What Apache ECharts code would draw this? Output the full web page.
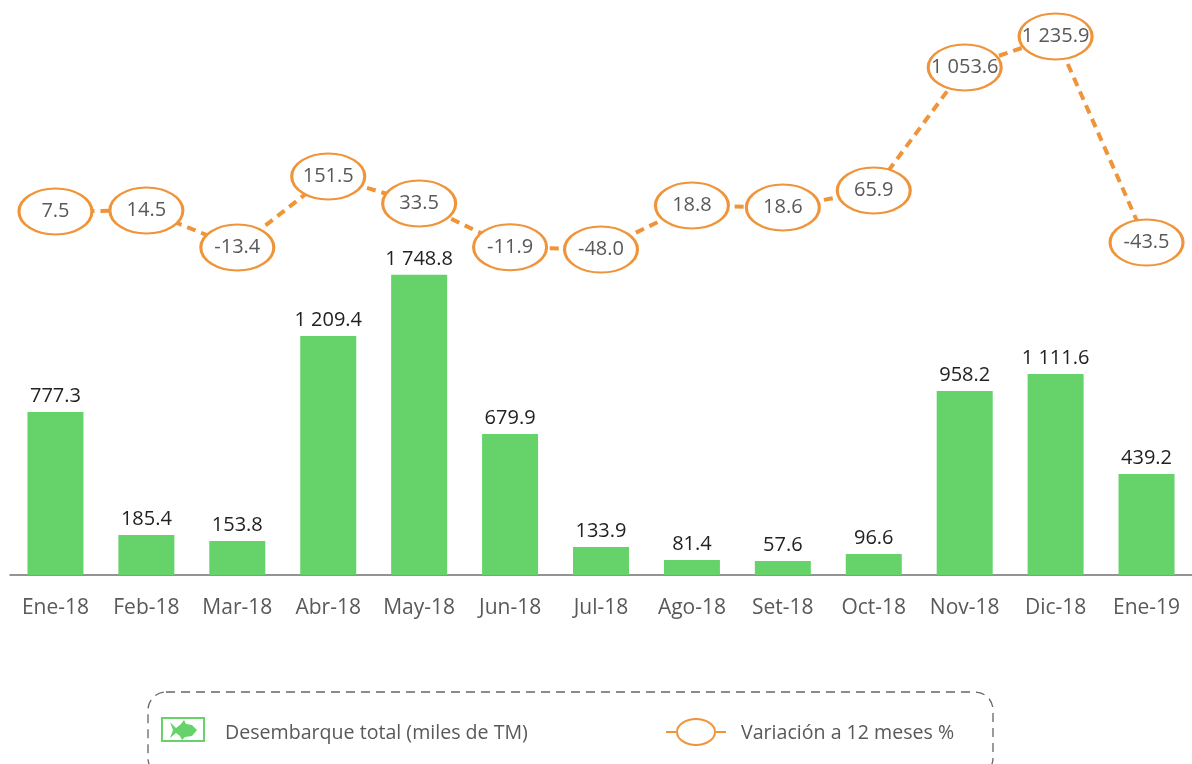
<!DOCTYPE html>
<html>
<head>
<meta charset="utf-8">
<style>
  html, body { margin: 0; padding: 0; background: #fff; }
  #main { width: 1192px; height: 764px; }
</style>
<script src="https://cdn.jsdelivr.net/npm/echarts@6/dist/echarts.min.js"></script>
</head>
<body>
<div id="main"></div>
<script>
const meses = ['Ene-18', 'Feb-18', 'Mar-18', 'Abr-18', 'May-18', 'Jun-18', 'Jul-18', 'Ago-18', 'Set-18', 'Oct-18', 'Nov-18', 'Dic-18', 'Ene-19']

// printed values
const desembarque = [777.3, 185.4, 153.8, 1209.4, 1748.8, 679.9, 133.9, 81.4, 57.6, 96.6, 958.2, 1111.6, 439.2]
const variacion = [7.5, 14.5, -13.4, 151.5, 33.5, -11.9, -48.0, 18.8, 18.6, 65.9, 1053.6, 1235.9, -43.5]

// the original graphic is not drawn to scale, so the marks use the levels read off the picture
const desembarqueDibujado = [950, 233, 198, 1393, 1749, 822, 163, 87, 82, 122, 1072, 1171, 589]
const variacionDibujada = [207, 213, -5, 413, 254, -3, -17, 242, 230, 330, 1053.6, 1235.9, 24]

const verde = '#66D36A'
const naranja = '#F0943A'
const gris = '#595959'
const fuente = '"Open Sans", sans-serif'

// 1 748.8 style
function formato (v) {
  const partes = v.toFixed(1).split('.')
  return partes[0].replace(/\B(?=(\d{3})+$)/g, ' ') + '.' + partes[1]
}

const chart = echarts.init(document.getElementById('main'))

chart.setOption({
  animation: false,
  textStyle: { fontFamily: fuente },
  grid: { left: 10, right: 0, top: 0, bottom: 189 },
  xAxis: {
    type: 'category',
    data: meses,
    axisTick: { show: false },
    axisLine: { lineStyle: { color: '#707070', width: 1.5 } },
    axisLabel: { color: gris, fontSize: 21, fontFamily: fuente, margin: 23, interval: 0 }
  },
  yAxis: [
    { type: 'value', min: 0, max: 3350, show: false },
    { type: 'value', min: -1930, max: 1450, show: false }
  ],
  series: [
    {
      name: 'Desembarque total (miles de TM)',
      type: 'bar',
      yAxisIndex: 0,
      data: desembarqueDibujado,
      barWidth: 56,
      itemStyle: { color: verde },
      label: {
        show: true,
        position: 'top',
        distance: 6,
        color: '#222222',
        fontSize: 20,
        fontFamily: fuente,
        formatter: (p) => formato(desembarque[p.dataIndex])
      }
    },
    {
      name: 'Variación a 12 meses %',
      type: 'line',
      yAxisIndex: 1,
      data: variacionDibujada,
      symbol: 'circle',
      symbolSize: [73, 46],
      showAllSymbol: true,
      lineStyle: { color: naranja, width: 4, type: [9, 6] },
      itemStyle: { color: '#ffffff', borderColor: naranja, borderWidth: 2.5 },
      label: {
        show: true,
        position: 'inside',
        color: gris,
        fontSize: 20,
        fontFamily: fuente,
        formatter: (p) => formato(variacion[p.dataIndex])
      },
      z: 5
    }
  ],
  graphic: [
    // legend box, runs off the bottom of the page like the original
    {
      type: 'rect',
      shape: { x: 148, y: 692, width: 845, height: 84, r: 18 },
      style: { fill: 'none', stroke: '#666666', lineWidth: 1.3, lineDash: [9, 6] }
    },
    {
      type: 'rect',
      shape: { x: 162, y: 718, width: 42, height: 23 },
      style: { fill: '#ffffff', stroke: verde, lineWidth: 2 }
    },
    {
      // fish
      type: 'polygon',
      shape: {
        points: [[170, 722], [176, 728], [181, 724], [184, 720], [186, 724], [192, 725], [197, 730], [192, 736], [185, 737], [182, 740], [180, 736], [176, 733], [170, 738], [173, 730]]
      },
      style: { fill: verde }
    },
    {
      type: 'text',
      x: 225,
      y: 733,
      style: { text: 'Desembarque total (miles de TM)', fill: gris, font: '19.6px ' + fuente, verticalAlign: 'middle' }
    },
    {
      type: 'line',
      shape: { x1: 666, y1: 732, x2: 676, y2: 732 },
      style: { stroke: naranja, lineWidth: 2 }
    },
    {
      type: 'line',
      shape: { x1: 716, y1: 732, x2: 726, y2: 732 },
      style: { stroke: naranja, lineWidth: 2 }
    },
    {
      type: 'ellipse',
      shape: { cx: 696, cy: 732, rx: 19, ry: 13 },
      style: { fill: '#ffffff', stroke: naranja, lineWidth: 2 }
    },
    {
      type: 'text',
      x: 741,
      y: 733,
      style: { text: 'Variación a 12 meses %', fill: gris, font: '19.6px ' + fuente, verticalAlign: 'middle' }
    }
  ]
})
</script>
</body>
</html>
